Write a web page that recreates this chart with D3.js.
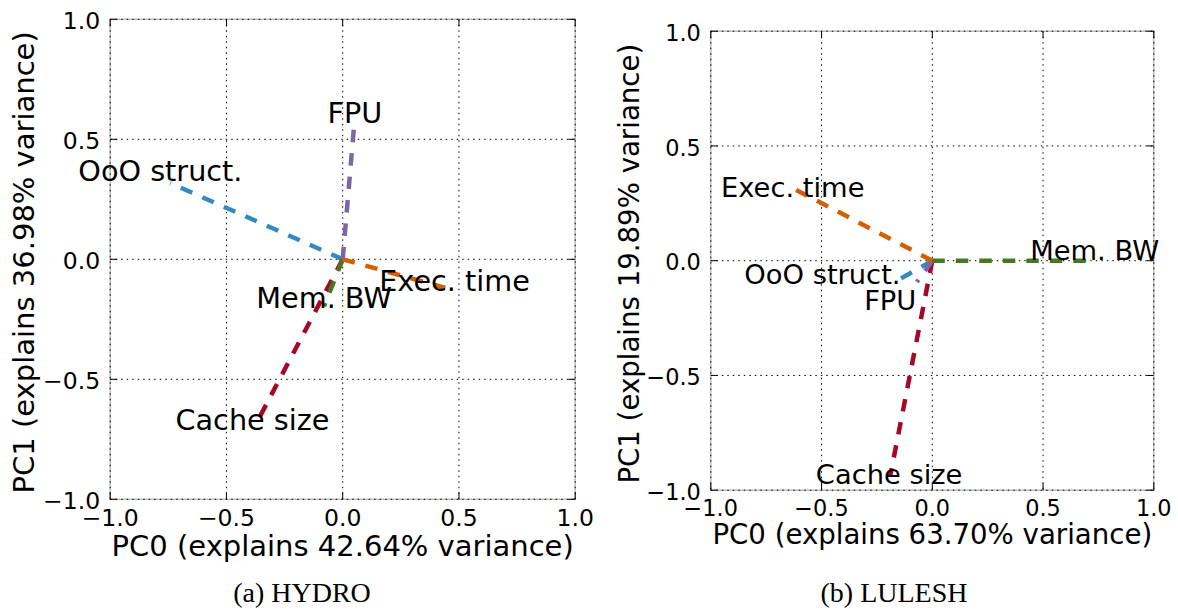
<!DOCTYPE html>
<html>
<head>
<meta charset="utf-8">
<script src="https://cdn.jsdelivr.net/npm/d3@7"></script>
<style>
  body { margin: 0; background: #fff; }
  text { font-family: "DejaVu Sans", sans-serif; fill: #000; }
</style>
</head>
<body>
<div id="chart"></div>
<script>
// categories (one loading vector each) and their colours
var categories = ["OoO struct.", "Cache size", "FPU", "Mem. BW", "Exec. time"];
var colors = ["#348ABD", "#A60628", "#7A68A6", "#467821", "#D55E00"];
var tickValues = [-1.0, -0.5, 0.0, 0.5, 1.0];

// HYDRO: loading vectors (PC0, PC1) and where their names sit
var hydroPc0 = [-0.742, -0.362, 0.05, -0.08, 0.468];
var hydroPc1 = [0.318, -0.666, 0.569, -0.195, -0.126];
var hydroLabelPc0 = [-0.784, -0.388, 0.052, -0.08, 0.481];
var hydroLabelPc1 = [0.328, -0.71, 0.569, -0.203, -0.132];

// LULESH
var luleshPc0 = [-0.141, -0.19, -0.07, 0.70, -0.62];
var luleshPc1 = [-0.077, -0.937, -0.093, 0.0, 0.311];
var luleshLabelPc0 = [-0.496, -0.195, -0.19, 0.733, -0.63];
var luleshLabelPc1 = [-0.102, -0.975, -0.215, 0.003, 0.279];

var svg = d3.select("#chart").append("svg")
  .attr("width", 1178)
  .attr("height", 612);

var fmt = d3.format(".1f");

function drawPanel(p) {
  var x = d3.scaleLinear().domain([-1, 1]).range([p.left, p.right]);
  var y = d3.scaleLinear().domain([-1, 1]).range([p.bottom, p.top]);
  var g = svg.append("g");

  // frame
  g.append("rect")
    .attr("x", p.left).attr("y", p.top)
    .attr("width", p.right - p.left).attr("height", p.bottom - p.top)
    .attr("fill", "none").attr("stroke", "#bcbcbc").attr("stroke-width", 1.5);

  // dotted grid
  g.selectAll(".gx").data(tickValues).enter().append("line")
    .attr("x1", function (d) { return x(d); }).attr("x2", function (d) { return x(d); })
    .attr("y1", p.top).attr("y2", p.bottom)
    .attr("stroke", "#000").attr("stroke-width", 1).attr("stroke-dasharray", "1.5,4");
  g.selectAll(".gy").data(tickValues).enter().append("line")
    .attr("y1", function (d) { return y(d); }).attr("y2", function (d) { return y(d); })
    .attr("x1", p.left).attr("x2", p.right)
    .attr("stroke", "#000").attr("stroke-width", 1).attr("stroke-dasharray", "1.5,4");

  // inward ticks on all four sides
  var tl = 7;
  tickValues.forEach(function (d) {
    g.append("line").attr("x1", x(d)).attr("x2", x(d)).attr("y1", p.bottom).attr("y2", p.bottom - tl).attr("stroke", "#000");
    g.append("line").attr("x1", x(d)).attr("x2", x(d)).attr("y1", p.top).attr("y2", p.top + tl).attr("stroke", "#000");
    g.append("line").attr("y1", y(d)).attr("y2", y(d)).attr("x1", p.left).attr("x2", p.left + tl).attr("stroke", "#000");
    g.append("line").attr("y1", y(d)).attr("y2", y(d)).attr("x1", p.right).attr("x2", p.right - tl).attr("stroke", "#000");
  });

  // tick labels
  g.selectAll(".tx").data(tickValues).enter().append("text")
    .attr("x", function (d) { return x(d); })
    .attr("y", p.bottom + p.tickSize * 1.15)
    .attr("text-anchor", "middle")
    .style("font-size", p.tickSize + "px")
    .text(function (d) { return fmt(d); });
  g.selectAll(".ty").data(tickValues).enter().append("text")
    .attr("x", p.left - 10)
    .attr("y", function (d) { return y(d) + p.tickSize * 0.43; })
    .attr("text-anchor", "end")
    .style("font-size", p.tickSize + "px")
    .text(function (d) { return fmt(d); });

  // axis titles
  g.append("text")
    .attr("x", (p.left + p.right) / 2)
    .attr("y", p.bottom + p.titleSize * 1.95)
    .attr("text-anchor", "middle")
    .style("font-size", p.titleSize + "px")
    .text(p.xTitle);
  g.append("text")
    .attr("transform", "translate(" + p.yTitleX + "," + ((p.top + p.bottom) / 2 + 3) + ") rotate(-90)")
    .attr("text-anchor", "middle")
    .style("font-size", p.titleSize + "px")
    .text(p.yTitle);

  // loading vectors
  g.selectAll(".vec").data(categories).enter().append("line")
    .attr("x1", x(0)).attr("y1", y(0))
    .attr("x2", function (d, i) { return x(p.pc0[i]); })
    .attr("y2", function (d, i) { return y(p.pc1[i]); })
    .attr("stroke", function (d, i) { return colors[i]; })
    .attr("stroke-width", 4.5)
    .attr("stroke-dasharray", "12.5,11");

  // vector names
  g.selectAll(".lab").data(categories).enter().append("text")
    .attr("x", function (d, i) { return x(p.labelPc0[i]); })
    .attr("y", function (d, i) { return y(p.labelPc1[i]); })
    .attr("text-anchor", "middle")
    .style("font-size", p.labelSize + "px")
    .text(function (d) { return d; });

  // caption
  svg.append("text")
    .attr("x", p.captionX).attr("y", 602)
    .attr("text-anchor", "middle")
    .style("font-family", "'Liberation Serif', 'Times New Roman', serif")
    .style("font-size", "28px")
    .text(p.caption);
}

drawPanel({
  left: 110.2, right: 575.2, top: 19.3, bottom: 499.3,
  tickSize: 23.5, titleSize: 29, labelSize: 28.7, yTitleX: 33.5,
  xTitle: "PC0 (explains 42.64% variance)",
  yTitle: "PC1 (explains 36.98% variance)",
  pc0: hydroPc0, pc1: hydroPc1, labelPc0: hydroLabelPc0, labelPc1: hydroLabelPc1,
  caption: "(a) HYDRO", captionX: 302
});

drawPanel({
  left: 710.8, right: 1153.8, top: 31.2, bottom: 490.2,
  tickSize: 22.4, titleSize: 27.6, labelSize: 27.3, yTitleX: 638.5,
  xTitle: "PC0 (explains 63.70% variance)",
  yTitle: "PC1 (explains 19.89% variance)",
  pc0: luleshPc0, pc1: luleshPc1, labelPc0: luleshLabelPc0, labelPc1: luleshLabelPc1,
  caption: "(b) LULESH", captionX: 894
});
</script>
</body>
</html>
